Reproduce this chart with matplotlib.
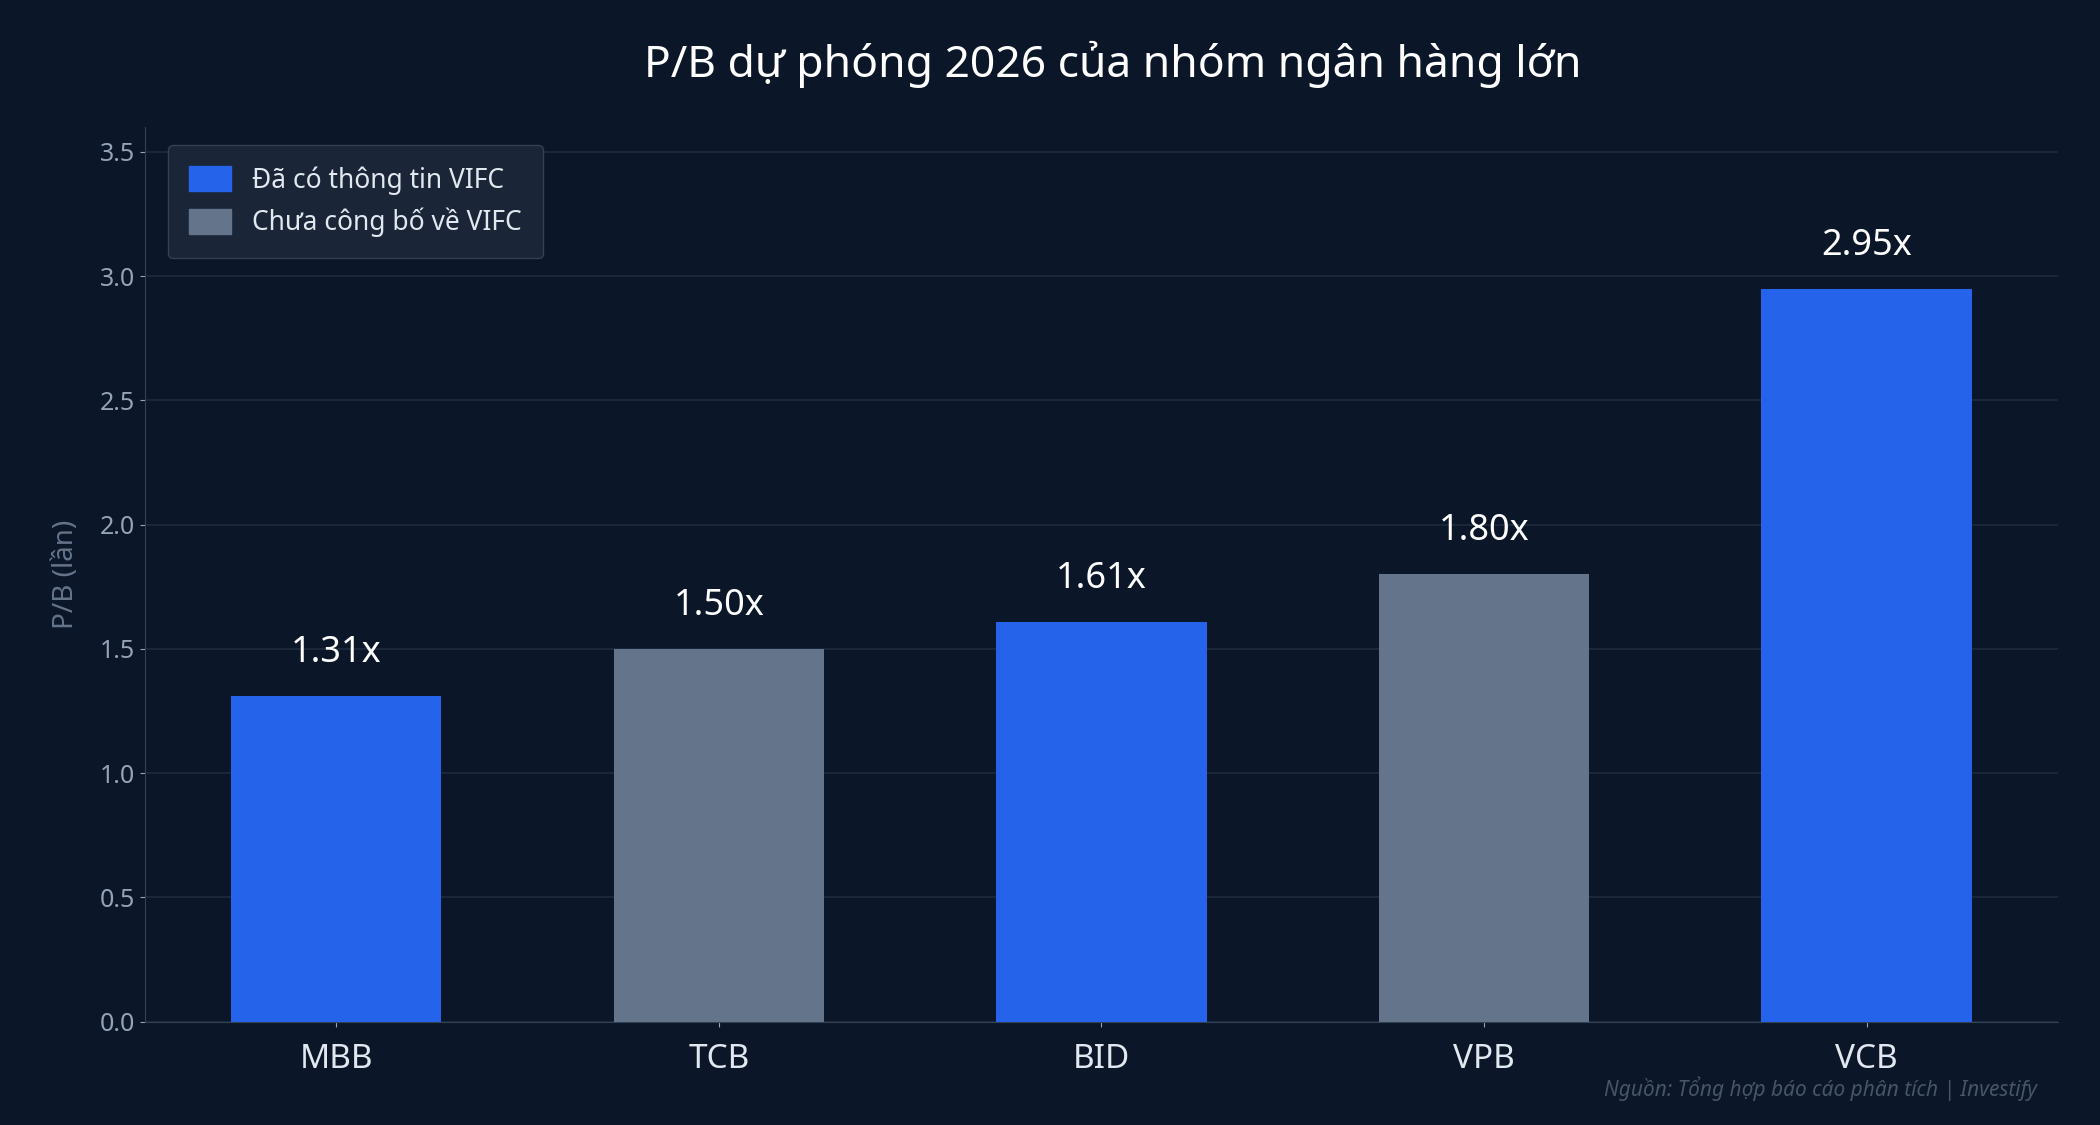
import matplotlib.pyplot as plt
from matplotlib.patches import Patch

plt.rcParams['font.family'] = ['Noto Sans', 'DejaVu Sans']

# Dữ liệu
ngan_hang = ["MBB", "TCB", "BID", "VPB", "VCB"]
pb_2026 = [1.31, 1.50, 1.61, 1.80, 2.95]
co_vifc = [True, False, True, False, True]

bg = "#0b1628"
xanh = "#2563eb"
xam = "#64748b"

fig = plt.figure(figsize=(21, 11.25), dpi=100, facecolor=bg)
ax = fig.add_axes([0.069, 0.092, 0.911, 0.795])
ax.set_facecolor(bg)

mau = [xanh if c else xam for c in co_vifc]
ax.bar(ngan_hang, pb_2026, width=0.55, color=mau, zorder=3)
for i, v in enumerate(pb_2026):
    ax.text(i, v + 0.1, f"{v:.2f}x", ha="center", va="bottom",
            color="white", fontsize=26, fontweight="bold", zorder=4)

ax.set_ylim(0, 3.6)
ax.set_xlim(-0.5, 4.5)
ax.set_yticks([0, 0.5, 1.0, 1.5, 2.0, 2.5, 3.0, 3.5])
ax.set_yticklabels([f"{t:.1f}" for t in ax.get_yticks()])
ax.grid(axis="y", color="#1e2a3d", linewidth=1.2, zorder=0)
ax.tick_params(axis="y", colors="#94a3b8", labelsize=18)
ax.tick_params(axis="x", colors="#94a3b8", labelcolor="#e2e8f0", labelsize=24, pad=12)
for s in ["top", "right"]:
    ax.spines[s].set_visible(False)
for s in ["left", "bottom"]:
    ax.spines[s].set_color("#334155")
ax.set_ylabel("P/B (lần)", color="#64748b", fontsize=20, labelpad=14)

fig.text(0.53, 0.943, "P/B dự phóng 2026 của nhóm ngân hàng lớn",
         ha="center", va="center", color="white", fontsize=32, fontweight="bold")
fig.text(0.97, 0.032, "Nguồn: Tổng hợp báo cáo phân tích | Investify",
         ha="right", va="center", color="#475569", fontsize=15, style="italic")

leg = ax.legend(handles=[Patch(color=xanh, label="Đã có thông tin VIFC"),
                         Patch(color=xam, label="Chưa công bố về VIFC")],
                loc="upper left", fontsize=19, facecolor="#1a2537",
                edgecolor="#334155", labelcolor="#e2e8f0",
                handlelength=1.6, handleheight=1.1, borderpad=0.8,
                bbox_to_anchor=(0.005, 0.995))
leg.get_frame().set_alpha(1)

plt.savefig("out.png", facecolor=bg)
